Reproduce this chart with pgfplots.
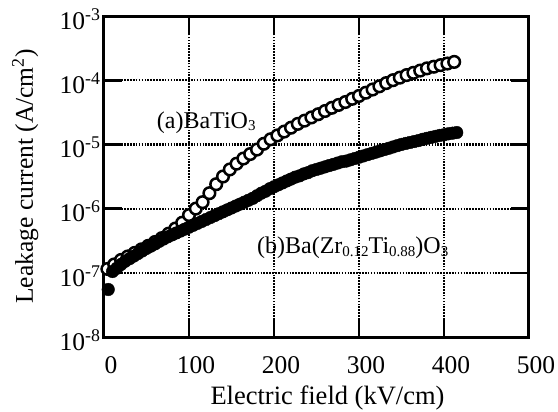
\documentclass[border=0pt]{standalone}
\usepackage{pgfplots}
\pgfplotsset{compat=1.18}
\usepackage{fontspec}
\setmainfont{Liberation Serif}
\newcommand{\bigf}{\fontsize{24}{28}\selectfont}
\newcommand{\tickf}{\fontsize{25.5}{30}\selectfont}
\newcommand{\labf}{\fontsize{26.5}{32}\selectfont}
\newcommand{\ylabf}{\fontsize{25.5}{30}\selectfont}
\newcommand{\sub}[1]{\raisebox{-0.12em}{\fontsize{15}{15}\selectfont #1}}
\begin{document}
\begin{tikzpicture}
\path[use as bounding box] (-104pt,-75pt) rectangle (454pt,337pt);
\begin{axis}[
  at={(0,0)}, anchor=south west,
  scale only axis, width=425pt, height=321pt,
  xmin=0, xmax=500, ymode=log, ymin=1e-8, ymax=1e-3,
  xtick={0,100,200,300,400,500},
  xticklabels={0,100,200,300,400,500},
  ytick={1e-8,1e-7,1e-6,1e-5,1e-4,1e-3},
  yticklabels={10\textsuperscript{-8},10\textsuperscript{-7},10\textsuperscript{-6},10\textsuperscript{-5},10\textsuperscript{-4},10\textsuperscript{-3}},
  yminorticks=false, xminorticks=false,
  tick align=inside, major tick length=18pt,
  tick style={line width=2.6pt, black},
  axis line style={line width=3pt},
  grid=major,
  major grid style={line width=2.2pt, black, dash pattern=on 1.6pt off 1.3pt},
  ticklabel style={font=\tickf},
  xticklabel style={xshift=7pt, yshift=-16pt},
  yticklabel style={yshift=-3pt},
  xlabel={Electric field (kV/cm)},
  ylabel={Leakage current (A/cm\textsuperscript{2})},
  xlabel style={font=\labf, at={(axis description cs:0.5,0)}, anchor=base, yshift=-67pt, xshift=11pt},
  ylabel style={font=\ylabf, at={(axis description cs:0,0.5)}, anchor=base, yshift=71pt},
  clip=false,
]
% (a) BaTiO3 -- open circles
\addplot[only marks, mark=*, mark size=5.8pt, mark options={fill=white, draw=black, line width=2.5pt}] coordinates {
(4,1.148e-7) (12,1.349e-7) (20,1.585e-7) (28,1.799e-7) (36,2.042e-7) (44,2.317e-7)
(52,2.630e-7) (60,3.020e-7) (68,3.467e-7) (76,4.074e-7) (84,4.898e-7) (92,6.026e-7)
(100,7.943e-7) (108,1.0e-6) (116,1.259e-6) (124,1.738e-6) (132,2.399e-6) (140,3.162e-6)
(148,4.074e-6) (156,5.012e-6) (164,6.026e-6) (172,7.079e-6) (180,8.318e-6) (188,1.023e-5)
(196,1.202e-5) (204,1.380e-5) (212,1.585e-5) (220,1.820e-5) (228,2.089e-5) (236,2.344e-5)
(244,2.630e-5) (252,2.951e-5) (260,3.311e-5) (268,3.715e-5) (276,4.121e-5) (284,4.571e-5)
(292,5.129e-5) (300,5.689e-5) (308,6.383e-5) (316,7.161e-5) (324,8.035e-5) (332,9.016e-5)
(340,1.0e-4) (348,1.096e-4) (356,1.202e-4) (364,1.303e-4) (372,1.413e-4) (380,1.531e-4)
(388,1.622e-4) (396,1.718e-4) (404,1.820e-4) (412,1.928e-4)
};
% (b) Ba(Zr0.12Ti0.88)O3 -- filled circles
\addplot[only marks, mark=*, mark size=6.3pt, mark options={fill=black, draw=black}] coordinates {
(5,5.495e-8) (10,1.047e-7) (15,1.175e-7) (20,1.349e-7) (25,1.514e-7) (30,1.660e-7)
(35,1.820e-7) (40,1.995e-7) (45,2.188e-7) (50,2.399e-7) (55,2.600e-7) (60,2.818e-7)
(65,3.090e-7) (70,3.350e-7) (75,3.631e-7) (80,3.890e-7) (85,4.169e-7) (90,4.467e-7)
(95,4.786e-7) (100,5.129e-7) (105,5.495e-7) (110,5.888e-7) (115,6.310e-7) (120,6.761e-7)
(125,7.244e-7) (130,7.762e-7) (135,8.318e-7) (140,8.913e-7) (145,9.550e-7) (150,1.023e-6)
(155,1.096e-6) (160,1.175e-6) (165,1.259e-6) (170,1.349e-6) (175,1.445e-6) (180,1.585e-6)
(185,1.738e-6) (190,1.862e-6) (195,2.042e-6) (200,2.188e-6) (205,2.344e-6) (210,2.512e-6)
(215,2.692e-6) (220,2.884e-6) (225,3.090e-6) (230,3.236e-6) (235,3.467e-6) (240,3.631e-6)
(245,3.890e-6) (250,4.074e-6) (255,4.266e-6) (260,4.467e-6) (265,4.677e-6) (270,4.898e-6)
(275,5.129e-6) (280,5.370e-6) (285,5.495e-6) (290,5.754e-6) (295,6.026e-6) (300,6.310e-6)
(305,6.607e-6) (310,6.918e-6) (315,7.244e-6) (320,7.586e-6) (325,7.943e-6) (330,8.318e-6)
(335,8.710e-6) (340,9.120e-6) (345,9.550e-6) (350,1.000e-5) (355,1.035e-5) (360,1.072e-5)
(365,1.109e-5) (370,1.148e-5) (375,1.202e-5) (380,1.245e-5) (385,1.288e-5) (390,1.334e-5)
(395,1.380e-5) (400,1.413e-5) (405,1.462e-5) (410,1.496e-5) (415,1.531e-5)
};
\node[anchor=base west, font=\bigf, inner sep=0pt] at (axis cs:62,1.8e-5) {(a)BaTiO\sub{3}};
\node[anchor=base west, font=\bigf, inner sep=0pt] at (axis cs:180,2.0e-7) {(b)Ba(Zr\sub{0.12}Ti\sub{0.88})O\sub{3}};
\end{axis}
\end{tikzpicture}
\end{document}
